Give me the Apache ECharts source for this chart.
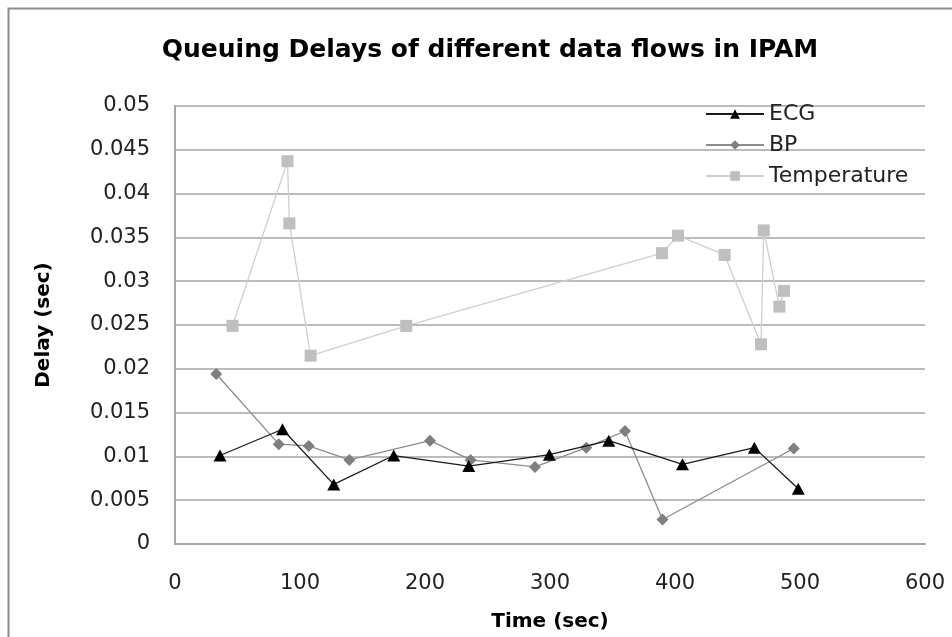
<!DOCTYPE html>
<html>
<head>
<meta charset="utf-8">
<script src="https://cdn.jsdelivr.net/npm/echarts@6/dist/echarts.min.js"></script>
<style>
  html, body { margin: 0; padding: 0; background: #fff; }
  #chart { width: 952px; height: 637px; }
</style>
</head>
<body>
<div id="chart"></div>
<script>
// Queuing delay samples (time in sec, delay in sec) per data flow
const ecgTime   = [36, 86, 127, 175, 235, 299.5, 347, 406, 463.5, 498.6];
const ecgDelay  = [0.0101, 0.0131, 0.0068, 0.0101, 0.0089, 0.0102, 0.0118, 0.0091, 0.0110, 0.0063];

const bpTime    = [33, 83, 107, 139.5, 204, 236.5, 288, 329, 360, 390, 495];
const bpDelay   = [0.0194, 0.0114, 0.0112, 0.0096, 0.0118, 0.0096, 0.0088, 0.0110, 0.0129, 0.0028, 0.0109];

const tempTime  = [46, 90, 91.5, 108.5, 185, 389.6, 402.4, 439.7, 468.8, 471, 483.5, 487.2];
const tempDelay = [0.0249, 0.0437, 0.0366, 0.0215, 0.0249, 0.0332, 0.0352, 0.0330, 0.0228, 0.0358, 0.0271, 0.0289];

const seriesNames = ['ECG', 'BP', 'Temperature'];
const xTicks = [0, 100, 200, 300, 400, 500, 600];
const yTicks = [0, 0.005, 0.01, 0.015, 0.02, 0.025, 0.03, 0.035, 0.04, 0.045, 0.05];

const pairs = (xs, ys) => xs.map((x, i) => [x, ys[i]]);

const FONT = '"DejaVu Sans", sans-serif';
const chart = echarts.init(document.getElementById('chart'), null, { renderer: 'canvas' });

chart.setOption({
  animation: false,
  backgroundColor: '#ffffff',
  title: {
    text: 'Queuing Delays of different data flows in IPAM',
    left: 485, top: 33, textAlign: 'center',
    textStyle: { fontFamily: FONT, fontWeight: 'bold', fontSize: 25, color: '#000' }
  },
  graphic: [{
    type: 'rect', left: 6, top: 6, z: 100, silent: true,
    shape: { width: 960, height: 660 },
    style: { fill: 'none', stroke: '#8c8c8c', lineWidth: 2 }
  }],
  legend: {
    orient: 'vertical', left: 700, top: 98,
    itemWidth: 58, itemHeight: 12, itemGap: 9,
    textStyle: { fontFamily: FONT, fontSize: 22, color: '#222' },
    data: seriesNames
  },
  grid: { left: 175, right: 27, top: 106, bottom: 91 },
  xAxis: {
    type: 'value', min: xTicks[0], max: xTicks[xTicks.length - 1], interval: 100,
    name: 'Time (sec)', nameLocation: 'middle', nameGap: 68,
    nameTextStyle: { fontFamily: FONT, fontWeight: 'bold', fontSize: 20, color: '#000' },
    axisLine: { show: true, lineStyle: { color: '#a6a6a6', width: 2 } },
    axisTick: { show: false },
    splitLine: { show: false },
    axisLabel: { fontFamily: FONT, fontSize: 21, color: '#222', margin: 29 }
  },
  yAxis: {
    type: 'value', min: yTicks[0], max: yTicks[yTicks.length - 1], interval: 0.005,
    name: 'Delay (sec)', nameLocation: 'middle', nameGap: 121, nameRotate: 90,
    nameTextStyle: { fontFamily: FONT, fontWeight: 'bold', fontSize: 20, color: '#000' },
    axisLine: { show: true, lineStyle: { color: '#a6a6a6', width: 2 } },
    axisTick: { show: false },
    splitLine: { show: true, lineStyle: { color: '#a6a6a6', width: 1.5 } },
    axisLabel: {
      fontFamily: FONT, fontSize: 21, color: '#222', margin: 25,
      formatter: v => String(+v.toFixed(3))
    }
  },
  series: [
    {
      name: seriesNames[0], type: 'line', data: pairs(ecgTime, ecgDelay),
      symbol: 'triangle', symbolSize: [13, 12], z: 5,
      lineStyle: { color: '#1a1a1a', width: 1.3 },
      itemStyle: { color: '#000000' }
    },
    {
      name: seriesNames[1], type: 'line', data: pairs(bpTime, bpDelay),
      symbol: 'diamond', symbolSize: [12, 12], z: 4,
      lineStyle: { color: '#8c8c8c', width: 1.3 },
      itemStyle: { color: '#7f7f7f' }
    },
    {
      name: seriesNames[2], type: 'line', data: pairs(tempTime, tempDelay),
      symbol: 'rect', symbolSize: [12, 12], z: 3,
      lineStyle: { color: '#cfcfcf', width: 1.3 },
      itemStyle: { color: '#bfbfbf' }
    }
  ]
});
</script>
</body>
</html>
